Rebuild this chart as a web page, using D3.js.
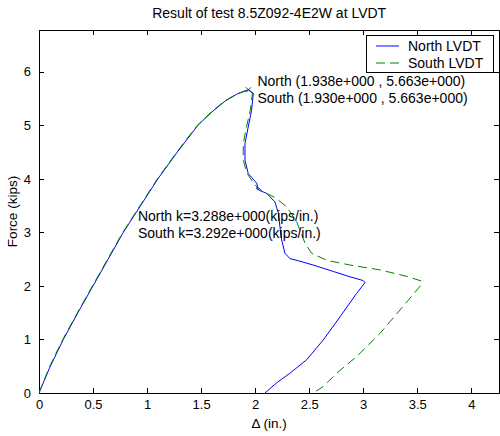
<!DOCTYPE html>
<html><head><meta charset="utf-8">
<script src="https://cdn.jsdelivr.net/npm/d3@7"></script>
<style>body{margin:0;background:#fff;}svg{display:block;font-family:"Liberation Sans",Arial,sans-serif;}</style>
</head><body>
<svg id="c" width="500" height="436"></svg>
<script>
const title = "Result of test 8.5Z092-4E2W at LVDT";
const xLabel = "\u0394 (in.)";
const yLabel = "Force (kips)";
const xTicks = [0, 0.5, 1, 1.5, 2, 2.5, 3, 3.5, 4];
const yTicks = [0, 1, 2, 3, 4, 5, 6];
const seriesNames = ["North LVDT", "South LVDT"];
const northX = [0, 0.10, 0.225, 0.36, 0.50, 0.64, 0.78, 0.94, 1.10, 1.28, 1.47, 1.60, 1.72, 1.83, 1.938, 1.983, 1.967, 1.936, 1.906, 1.906, 1.936, 2.014, 2.029, 2.01, 2.044, 2.106, 2.183, 2.214, 2.229, 2.245, 2.276, 2.322, 2.399, 2.538, 2.723, 2.877, 3.0, 3.016, 2.939, 2.784, 2.630, 2.476, 2.322, 2.199, 2.091];
const northY = [0, 0.48, 1.0, 1.5, 2.0, 2.5, 3.0, 3.5, 4.0, 4.5, 5.0, 5.25, 5.45, 5.58, 5.663, 5.60, 5.28, 4.97, 4.66, 4.35, 4.10, 3.92, 3.80, 3.83, 3.78, 3.73, 3.57, 3.36, 3.11, 2.86, 2.61, 2.51, 2.47, 2.39, 2.27, 2.17, 2.10, 2.06, 1.86, 1.42, 0.99, 0.62, 0.37, 0.19, 0.0];
const southX = [0, 0.095, 0.22, 0.355, 0.495, 0.635, 0.775, 0.935, 1.095, 1.275, 1.465, 1.595, 1.715, 1.825, 1.930, 1.975, 1.955, 1.92, 1.89, 1.89, 1.925, 2.0, 2.075, 2.183, 2.291, 2.384, 2.461, 2.522, 2.661, 2.877, 3.154, 3.401, 3.540, 3.524, 3.340, 3.154, 2.939, 2.754, 2.630, 2.537];
const southY = [0, 0.48, 1.0, 1.5, 2.0, 2.5, 3.0, 3.5, 4.0, 4.5, 5.0, 5.25, 5.45, 5.58, 5.663, 5.60, 5.28, 4.97, 4.66, 4.35, 4.10, 3.88, 3.76, 3.65, 3.48, 3.20, 2.80, 2.61, 2.48, 2.39, 2.30, 2.18, 2.09, 1.99, 1.55, 1.11, 0.68, 0.37, 0.12, 0.0];
const annotations = [
  {text: "North (1.938e+000 , 5.663e+000)", x: 1.938, y: 5.663, dx: 9, dy: -4},
  {text: "South (1.930e+000 , 5.663e+000)", x: 1.938, y: 5.663, dx: 9, dy: 13},
  {text: "North k=3.288e+000(kips/in.)", x: 0.915, y: 3.305, dx: 0, dy: 5},
  {text: "South k=3.292e+000(kips/in.)", x: 0.915, y: 2.985, dx: 0, dy: 5}
];

const svg = d3.select("#c");
const L = 39, R = 499.4, T = 30, B = 393;
const x = d3.scaleLinear().domain([0, 4.26]).range([L, R]);
const y = d3.scaleLinear().domain([0, 6.78]).range([B, T]);
const FS = 14, TFS = 13;

const g = svg.append("g");
g.append("rect").attr("x", L).attr("y", T).attr("width", R - L).attr("height", B - T)
  .attr("fill", "none").attr("stroke", "#000").attr("stroke-width", 1).attr("shape-rendering", "crispEdges");

const tl = 5;
const xAx = d3.axisBottom(x).tickValues(xTicks).tickSizeInner(-tl).tickSizeOuter(0).tickPadding(7).tickFormat(d3.format("~g"));
const yAx = d3.axisLeft(y).tickValues(yTicks).tickSizeInner(-tl).tickSizeOuter(0).tickPadding(8).tickFormat(d3.format("~g"));
const xa = g.append("g").attr("transform", `translate(0,${B})`).call(xAx);
const ya = g.append("g").attr("transform", `translate(${L},0)`).call(yAx);
const xt = g.append("g").attr("transform", `translate(0,${T})`).call(d3.axisTop(x).tickValues(xTicks).tickSizeInner(-tl).tickSizeOuter(0).tickFormat(""));
const yr = g.append("g").attr("transform", `translate(${R},0)`).call(d3.axisRight(y).tickValues(yTicks).tickSizeInner(-tl).tickSizeOuter(0).tickFormat(""));
[xa, ya, xt, yr].forEach(a => {
  a.select(".domain").attr("stroke", "#000").attr("shape-rendering", "crispEdges");
  a.selectAll(".tick line").attr("stroke", "#000").attr("shape-rendering", "crispEdges");
  a.selectAll("text").attr("font-size", TFS).attr("fill", "#000").attr("font-family", "Liberation Sans, Arial, sans-serif");
});

svg.append("clipPath").attr("id", "clp").append("rect").attr("x", L).attr("y", T).attr("width", R - L).attr("height", B - T + 1);
const line = d3.line().x(d => x(d[0])).y(d => y(d[1]));
const north = northX.map((v, i) => [v, northY[i]]);
const south = southX.map((v, i) => [v, southY[i]]);
const pl = svg.append("g").attr("clip-path", "url(#clp)");
pl.append("path").datum(north).attr("d", line).attr("fill", "none").attr("stroke", "#0000ff").attr("stroke-width", 1);
pl.append("path").datum(south).attr("d", line).attr("fill", "none").attr("stroke", "#008000").attr("stroke-width", 1).attr("stroke-dasharray", "9,5");
const px = x(northX[14]), py = y(northY[14]);
pl.append("path").attr("d", `M${px-2.5},${py-2.5}L${px+2.5},${py+2.5}M${px-2.5},${py+2.5}L${px+2.5},${py-2.5}`).attr("stroke", "#333").attr("stroke-width", 1);

annotations.forEach(a => {
  svg.append("text").attr("x", x(a.x) + a.dx).attr("y", y(a.y) + a.dy).attr("font-size", FS).attr("fill", "#000").text(a.text);
});

svg.append("text").attr("x", (L + R) / 2).attr("y", 18).attr("text-anchor", "middle").attr("font-size", FS).text(title);
svg.append("text").attr("x", (L + R) / 2).attr("y", 428).attr("text-anchor", "middle").attr("font-size", 13.5).text(xLabel);
svg.append("text").attr("transform", `translate(17,${(T + B) / 2}) rotate(-90)`).attr("text-anchor", "middle").attr("font-size", 13.5).text(yLabel);

const lg = svg.append("g");
lg.append("rect").attr("x", 366.5).attr("y", 35.5).attr("width", 127).attr("height", 37).attr("fill", "#fff").attr("stroke", "#000").attr("stroke-width", 1);
const colors = ["#0000ff", "#008000"], dashes = [null, "9,5"];
seriesNames.forEach((n, i) => {
  const yy = 46 + i * 17;
  lg.append("line").attr("x1", 376).attr("x2", 399).attr("y1", yy).attr("y2", yy).attr("stroke", colors[i]).attr("stroke-width", 1).attr("stroke-dasharray", dashes[i]);
  lg.append("text").attr("x", 408).attr("y", yy + 5).attr("font-size", FS).text(n);
});
</script>
</body></html>
